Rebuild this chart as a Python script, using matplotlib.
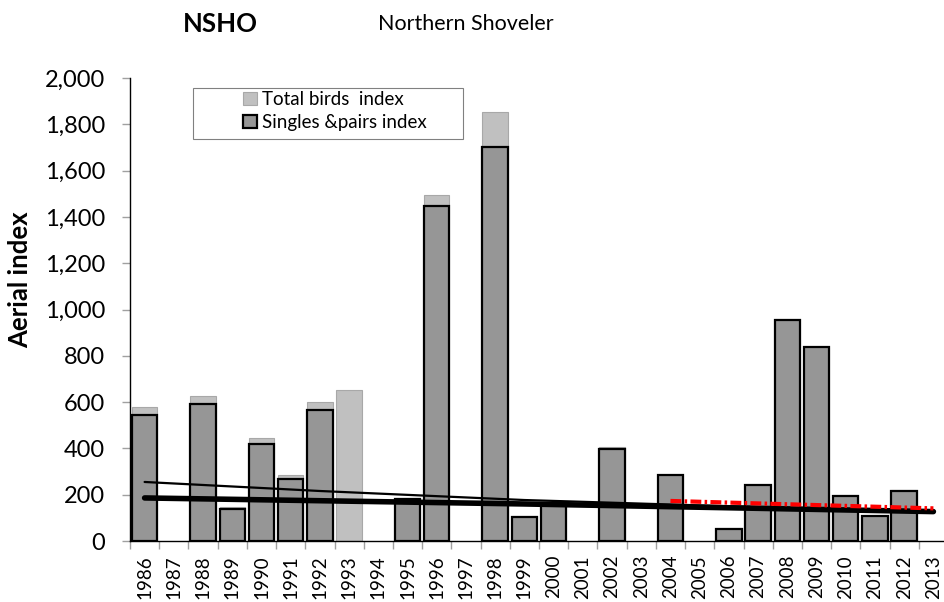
import numpy as np
import matplotlib
matplotlib.use("Agg")
import matplotlib.pyplot as plt
from matplotlib.patches import Rectangle, Patch
from matplotlib.ticker import FuncFormatter

plt.rcParams['font.family'] = ['Lato', 'DejaVu Sans']

years = list(range(1986, 2014))
total_birds = [577, np.nan, 626, 145, 446, 284, 600, 652, np.nan, 185,
               1495, np.nan, 1853, 108, 160, np.nan, 407, np.nan, 286, np.nan,
               54, 244, 957, 840, 198, 109, 219, np.nan]
singles_pairs = [544, np.nan, 590, 138, 419, 269, 566, np.nan, np.nan, 183,
                 1445, np.nan, 1702, 105, 158, np.nan, 399, np.nan, 284, np.nan,
                 52, 242, 955, 838, 196, 107, 217, np.nan]

# trend lines
thin_trend_years = [1986, 1992, 1999, 2006, 2013]
thin_trend_vals = [255, 216, 177, 150, 125]
thick_trend_years = [1986, 1999, 2013]
thick_trend_vals = [186, 160, 127]
red_trend_years = [2004, 2013]
red_trend_vals = [173, 141]

fig = plt.figure(figsize=(9.44, 6.02), dpi=100)
ax = fig.add_axes([130/944, 61/602, 818/944, 463/602])

x = np.arange(len(years))
idx = {y: i for i, y in enumerate(years)}
w = 0.87
ax.bar(x, total_birds, width=w, color='#c0c0c0', edgecolor='#a8a8a8', linewidth=0.8, zorder=2)
ax.bar(x, singles_pairs, width=w, color='#969696', edgecolor='black', linewidth=1.6, zorder=3)

ax.plot([idx[y] for y in thin_trend_years], thin_trend_vals, color='black', lw=1.6, zorder=4,
        solid_capstyle='round')
ax.plot([idx[y] for y in thick_trend_years], thick_trend_vals, color='black', lw=4, zorder=5,
        solid_capstyle='round')
ax.plot([idx[y] for y in red_trend_years], red_trend_vals, color='#ff0000', lw=3, zorder=6,
        linestyle=(0, (2.6, 0.8, 0.6, 0.8)))

ax.set_xlim(-0.5, len(years) - 0.5)
ax.set_ylim(0, 2000)
ax.set_yticks(range(0, 2001, 200))
ax.yaxis.set_major_formatter(FuncFormatter(lambda v, p: f"{int(v):,}"))
ax.tick_params(axis='y', direction='out', length=6, width=1, color='#a0a0a0', labelsize=17, pad=12)

ax.set_xticks(x)
ax.set_xticklabels([str(y) for y in years], rotation=90, fontsize=13.5)
ax.set_xticks(np.arange(-0.5, len(years), 1.0), minor=True)
ax.tick_params(axis='x', which='major', length=0, pad=10)
ax.tick_params(axis='x', which='minor', direction='out', length=6, width=1, color='#a0a0a0')

for s in ['top', 'right']:
    ax.spines[s].set_visible(False)
ax.spines['left'].set_linewidth(1.0)
ax.spines['bottom'].set_linewidth(1.0)

ax.set_ylabel('Aerial index', fontsize=18.5, fontweight='bold')
ax.yaxis.set_label_coords((32 - 130) / 818, (541 - 280) / 463)

fig.text(183/944, 1 - 24/602, 'NSHO', fontsize=18.5, fontweight='bold', va='center', ha='left')
fig.text(378/944, 1 - 24/602, 'Northern Shoveler', fontsize=15.5, va='center', ha='left')

# legend box
fig.patches.append(Rectangle((193/944, 1 - 139/602), 270/944, 51/602, transform=fig.transFigure,
                             facecolor='white', edgecolor='#808080', linewidth=0.8, zorder=10))
handles = [Patch(facecolor='#c0c0c0', edgecolor='#a8a8a8', linewidth=0.8),
           Patch(facecolor='#969696', edgecolor='black', linewidth=1.6)]
leg = fig.legend(handles, ['Total birds  index', 'Singles &pairs index'],
                 loc='center left', bbox_to_anchor=(234/944, 1 - 111/602),
                 frameon=False, fontsize=13.5, handlelength=0.7, handleheight=0.7,
                 handletextpad=0.3, labelspacing=0.3, borderpad=0)
leg.set_zorder(11)

fig.savefig('out.png', dpi=100)
